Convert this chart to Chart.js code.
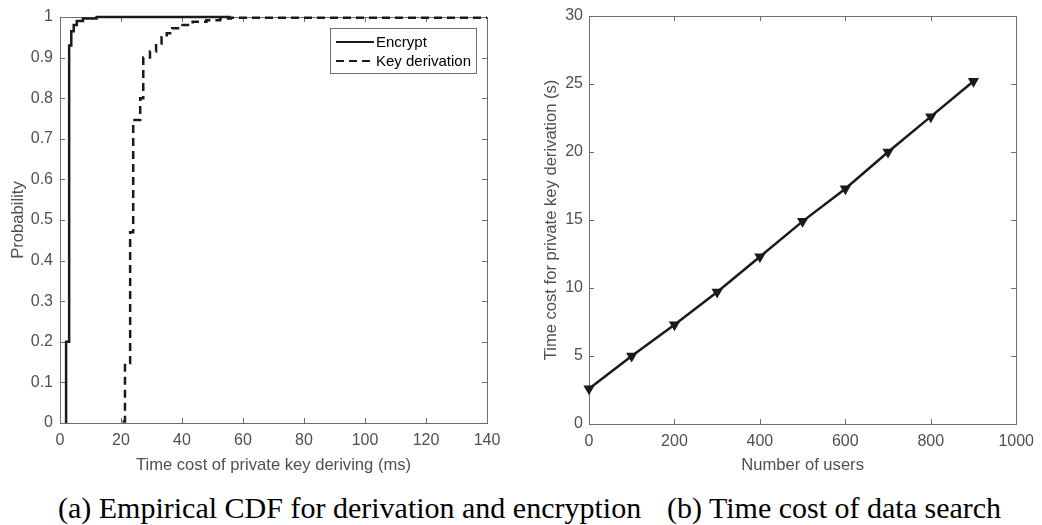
<!DOCTYPE html>
<html>
<head>
<meta charset="utf-8">
<script src="https://cdn.jsdelivr.net/npm/chart.js@4.4.1/dist/chart.umd.min.js"></script>
<style>
body { margin: 0; background: #fff; width: 1042px; height: 525px; overflow: hidden; position: relative; }
canvas { position: absolute; top: 0; }
#cdf { left: 0; }
#users { left: 520px; }
.caption { position: absolute; top: 493px; font-family: "Liberation Serif", "Times New Roman", serif; font-size: 30px; line-height: 30px; color: #000; white-space: nowrap; }
</style>
</head>
<body>
<canvas id="cdf" width="520" height="480"></canvas>
<canvas id="users" width="522" height="480"></canvas>
<div class="caption" style="left:58px">(a) Empirical CDF for derivation and encryption</div>
<div class="caption" style="left:667px">(b) Time cost of data search</div>
<script>
// (a) empirical CDF
var encryptX = [2, 2, 3, 3.7, 4.5, 5.5, 7.5, 12, 56];
var encryptP = [0, 0.2, 0.93, 0.965, 0.98, 0.99, 0.996, 1, 1];
var keyX = [20.5, 21.3, 23, 24, 26.3, 27.3, 29.5, 31.5, 33.3, 35, 36.8, 38.7, 43.5, 48, 52.5, 56, 140];
var keyP = [0.004, 0.148, 0.47, 0.746, 0.8, 0.9, 0.915, 0.935, 0.95, 0.96, 0.972, 0.98, 0.988, 0.992, 0.996, 0.998, 0.998];

// (b) time cost vs number of users
var users = [0, 100, 200, 300, 400, 500, 600, 700, 800, 900];
var timeCost = [2.6, 5.0, 7.3, 9.7, 12.3, 14.9, 17.3, 20.0, 22.6, 25.2];

var textColor = '#505050';
var axisColor = '#6e6e6e';
var lineColor = '#1a1a1a';
var fontFamily = '"Liberation Sans", Arial, sans-serif';

function toPoints(xs, ys) {
    var pts = [];
    for (var i = 0; i < xs.length; i++) {
        pts.push({x: xs[i], y: ys[i]});
    }
    return pts;
}

// matlab style box with inward ticks
var boxPlugin = {
    id: 'box',
    beforeDatasetsDraw: function(chart) {
        var ctx = chart.ctx;
        var a = chart.chartArea;
        var len = 5;
        ctx.save();
        ctx.strokeStyle = axisColor;
        ctx.lineWidth = 1;
        ctx.strokeRect(Math.round(a.left) + 0.5, Math.round(a.top) + 0.5, Math.round(a.right - a.left), Math.round(a.bottom - a.top));
        ctx.beginPath();
        chart.scales.x.ticks.forEach(function(t) {
            var px = Math.round(chart.scales.x.getPixelForValue(t.value)) + 0.5;
            ctx.moveTo(px, a.bottom); ctx.lineTo(px, a.bottom - len);
            ctx.moveTo(px, a.top); ctx.lineTo(px, a.top + len);
        });
        chart.scales.y.ticks.forEach(function(t) {
            var py = Math.round(chart.scales.y.getPixelForValue(t.value)) + 0.5;
            ctx.moveTo(a.left, py); ctx.lineTo(a.left + len, py);
            ctx.moveTo(a.right, py); ctx.lineTo(a.right - len, py);
        });
        ctx.stroke();
        ctx.restore();
    }
};

var legendPlugin = {
    id: 'boxLegend',
    afterDraw: function(chart) {
        if (chart.canvas.id != 'cdf') return;
        var ctx = chart.ctx;
        var left = 330, top = 28, w = 146, h = 45;
        ctx.save();
        ctx.fillStyle = '#fff';
        ctx.fillRect(left, top, w, h);
        ctx.strokeStyle = axisColor;
        ctx.lineWidth = 1;
        ctx.strokeRect(left + 0.5, top + 0.5, w, h);
        ctx.font = '15px ' + fontFamily;
        ctx.textBaseline = 'middle';
        ctx.fillStyle = '#000';
        chart.data.datasets.forEach(function(ds, i) {
            var y = top + 14 + i * 19;
            ctx.beginPath();
            ctx.strokeStyle = ds.borderColor;
            ctx.lineWidth = 2;
            ctx.setLineDash(ds.borderDash || []);
            ctx.moveTo(left + 6, y);
            ctx.lineTo(left + 44, y);
            ctx.stroke();
            ctx.setLineDash([]);
            ctx.fillText(ds.label, left + 46, y + 1);
        });
        ctx.restore();
    }
};

function axisTicks(step, digits) {
    return {
        stepSize: step,
        color: textColor,
        font: {family: fontFamily, size: 16},
        callback: function(v) { return String(+v.toFixed(digits)); }
    };
}

function axisTitle(text, pad) {
    return {
        display: true,
        text: text,
        color: textColor,
        font: {family: fontFamily, size: 16.6},
        padding: pad
    };
}

new Chart(document.getElementById('cdf'), {
    type: 'line',
    data: {
        datasets: [
            {
                label: 'Encrypt',
                data: toPoints(encryptX, encryptP),
                borderColor: lineColor,
                borderWidth: 2.5,
                stepped: true,
                pointRadius: 0,
                clip: false
            },
            {
                label: 'Key derivation',
                data: toPoints(keyX, keyP),
                borderColor: lineColor,
                borderWidth: 2.5,
                borderDash: [8, 5],
                stepped: true,
                pointRadius: 0,
                clip: false
            }
        ]
    },
    options: {
        responsive: false,
        animation: false,
        layout: {padding: {top: 17, right: 33, left: 0, bottom: 0}},
        plugins: {legend: {display: false}, tooltip: {enabled: false}},
        scales: {
            x: {
                type: 'linear', min: 0, max: 140,
                ticks: Object.assign(axisTicks(20, 0), {padding: 8}),
                grid: {display: false, drawTicks: false},
                border: {display: false},
                title: axisTitle('Time cost of private key deriving (ms)', {top: 0, bottom: 5}),
                afterFit: function(s) { s.height = 57; }
            },
            y: {
                type: 'linear', min: 0, max: 1,
                ticks: Object.assign(axisTicks(0.1, 1), {padding: 7}),
                grid: {display: false, drawTicks: false},
                border: {display: false},
                title: axisTitle('Probability', {top: 8, bottom: 0}),
                afterFit: function(s) { s.width = 60; }
            }
        }
    },
    plugins: [boxPlugin, legendPlugin]
});

new Chart(document.getElementById('users'), {
    type: 'line',
    data: {
        datasets: [
            {
                label: 'Time cost',
                data: toPoints(users, timeCost),
                borderColor: lineColor,
                borderWidth: 2.5,
                pointStyle: 'triangle',
                rotation: 180,
                pointRadius: 5,
                pointBackgroundColor: lineColor,
                pointBorderColor: lineColor,
                pointBorderWidth: 1.5,
                clip: false
            }
        ]
    },
    options: {
        responsive: false,
        animation: false,
        layout: {padding: {top: 16, right: 20, left: 0, bottom: 0}},
        plugins: {legend: {display: false}, tooltip: {enabled: false}},
        scales: {
            x: {
                type: 'linear', min: 0, max: 1000,
                ticks: Object.assign(axisTicks(200, 0), {padding: 8}),
                grid: {display: false, drawTicks: false},
                border: {display: false},
                title: axisTitle('Number of users', {top: 0, bottom: 5}),
                afterFit: function(s) { s.height = 56; }
            },
            y: {
                type: 'linear', min: 0, max: 30,
                ticks: Object.assign(axisTicks(5, 0), {padding: 6}),
                grid: {display: false, drawTicks: false},
                border: {display: false},
                title: axisTitle('Time cost for private key derivation (s)', {top: 21, bottom: 0}),
                afterFit: function(s) { s.width = 69; }
            }
        }
    },
    plugins: [boxPlugin]
});
</script>
</body>
</html>
